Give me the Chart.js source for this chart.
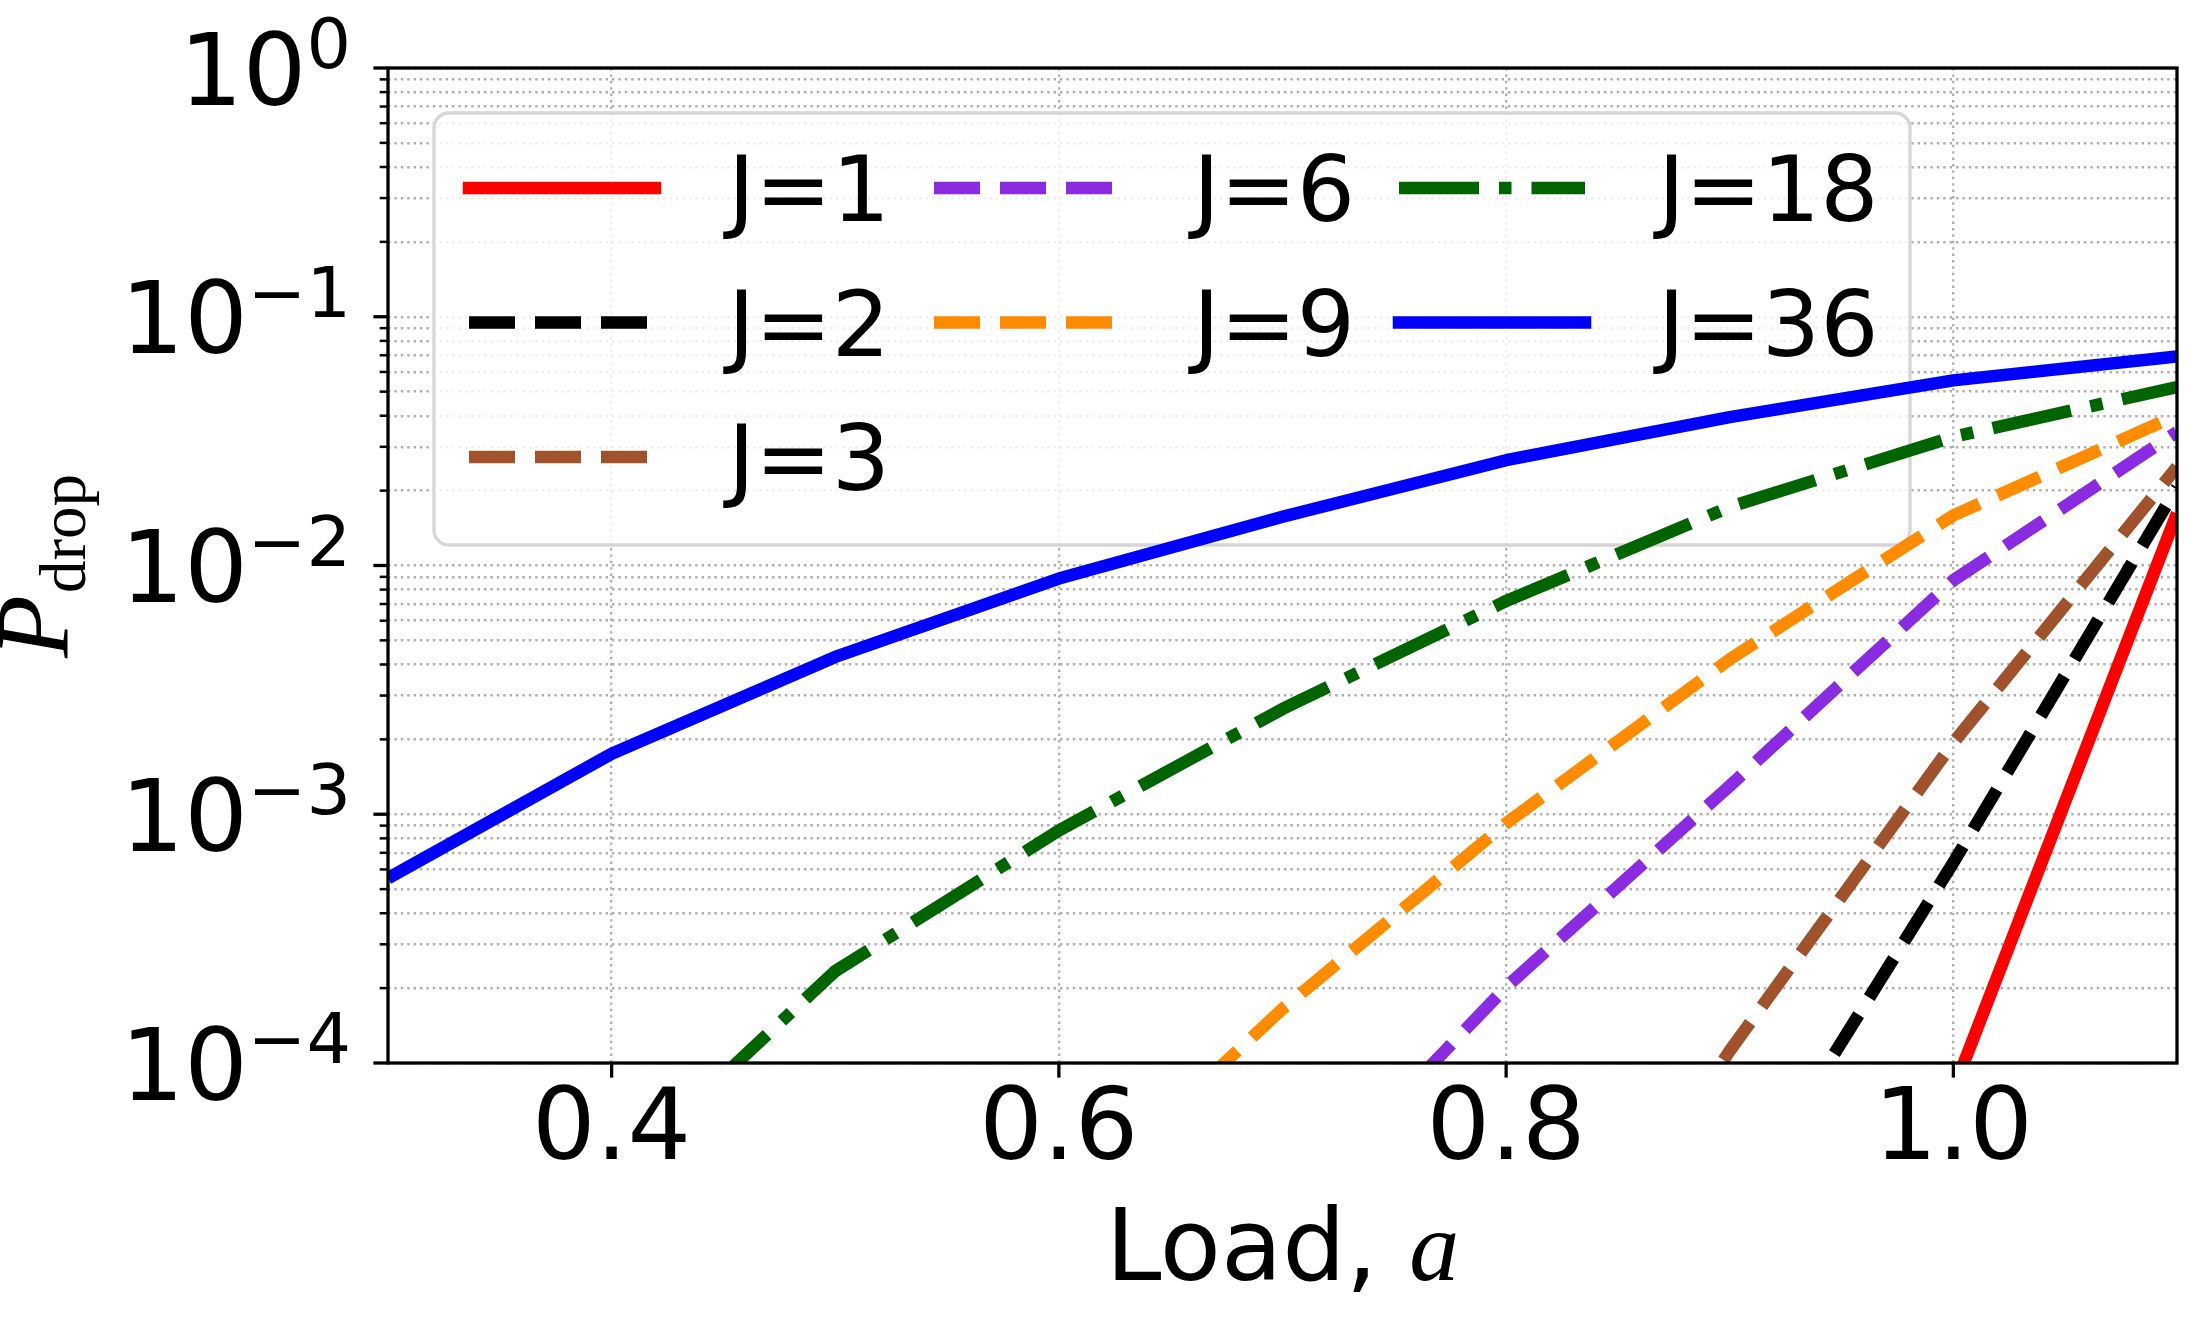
<!DOCTYPE html>
<html>
<head>
<meta charset="utf-8">
<title>Drop probability vs load</title>
<script src="https://cdn.jsdelivr.net/npm/chart.js@4.4.0/dist/chart.umd.min.js"></script>
<style>
    html, body { margin: 0; padding: 0; background: #ffffff; }
    #wrap { width: 2206px; height: 1333px; }
</style>
</head>
<body>
<div id="wrap"><canvas id="chart" width="2206" height="1333"></canvas></div>
<script>
// x axis: load a
const loads = [0.3, 0.4, 0.5, 0.6, 0.7, 0.8, 0.9, 1.0, 1.1];

// P_drop for each J (null where the curve is far below 1e-4)
const dropJ1  = [null, null, null, null, null, null, null, 7.8e-5, 1.62e-2];
const dropJ2  = [null, null, null, null, null, null, 2.3e-5, 6.4e-4, 2.06e-2];
const dropJ3  = [null, null, null, null, null, 4.8e-6, 1.12e-4, 1.94e-3, 2.49e-2];
const dropJ6  = [null, null, null, null, 2.33e-5, 2.02e-4, 1.3e-3, 8.72e-3, 3.44e-2];
const dropJ9  = [null, null, null, 2.4e-5, 1.65e-4, 9.2e-4, 4.2e-3, 1.59e-2, 4.02e-2];
const dropJ18 = [null, 3.4e-5, 2.34e-4, 8.6e-4, 2.65e-3, 7.2e-3, 1.72e-2, 3.29e-2, 5.22e-2];
const dropJ36 = [5.53e-4, 1.75e-3, 4.29e-3, 8.86e-3, 1.57e-2, 2.65e-2, 3.95e-2, 5.55e-2, 6.93e-2];

const seriesLabels = ['J=1', 'J=2', 'J=3', 'J=6', 'J=9', 'J=18', 'J=36'];
const seriesValues = [dropJ1, dropJ2, dropJ3, dropJ6, dropJ9, dropJ18, dropJ36];

// tick labels
const xTickValues = [0.4, 0.6, 0.8, 1.0];
const yMajorTicks = [1e-4, 1e-3, 1e-2, 1e-1, 1];
const yMajorExponents = ['\u22124', '\u22123', '\u22122', '\u22121', '0'];
const yMinorMultipliers = [2, 3, 4, 5, 6, 7, 8, 9];

// ---- styling ----
const LW = 12.5;
const DASH = [46, 20];
const lineStyles = [
    { color: '#ff0000', dash: [] },
    { color: '#000000', dash: DASH },
    { color: '#a0522d', dash: DASH },
    { color: '#8a2be2', dash: DASH },
    { color: '#ff8c00', dash: DASH },
    { color: '#006400', dash: [80, 20, 12.5, 20] },
    { color: '#0000ff', dash: [] }
];

const W = 2206, H = 1333;
const AREA = { left: 388, top: 68, right: 2177, bottom: 1063 };
const SANS = '"DejaVu Sans"';
const SERIF = '"Liberation Serif"';
const GRID = { color: '#b0b0b0', lineWidth: 2.4, drawTicks: false };
const GRID_BORDER = { display: false, dash: [2.4, 4] }; // v4 takes the grid dash from border.dash

// all y tick positions: decades plus the 2..9 multiples in between
const yAllTicks = [];
yMajorTicks.forEach((d, i) => {
    yAllTicks.push(d);
    if (i < yMajorTicks.length - 1) {
        yMinorMultipliers.forEach(m => yAllTicks.push(d * m));
    }
});

const datasets = seriesLabels.map((label, i) => ({
    label,
    data: loads.map((x, k) => ({ x, y: seriesValues[i][k] })),
    borderColor: lineStyles[i].color,
    backgroundColor: lineStyles[i].color,
    borderWidth: LW,
    borderDash: lineStyles[i].dash,
    borderCapStyle: 'butt',
    borderJoinStyle: 'round',
    pointRadius: 0,
    tension: 0,
    fill: false,
    spanGaps: false,
    clip: 0
}));

function drawLegendFrame(chart) {
    const ctx = chart.ctx;
    ctx.save();
    ctx.beginPath();
    ctx.roundRect(434, 113, 1476, 432, 15);
    ctx.fillStyle = 'rgba(255,255,255,0.8)';
    ctx.fill();
    ctx.lineWidth = 3.3;
    ctx.strokeStyle = '#d6d6d6';
    ctx.stroke();
    ctx.restore();
}

function drawLegendEntries(chart) {
    const ctx = chart.ctx;
    const colX = [469, 934, 1399];
    const rowY = [188, 322.5, 457];
    // 3 columns filled top-down: 3, 2, 2 entries
    const slots = [[0, 0], [0, 1], [0, 2], [1, 0], [1, 1], [2, 0], [2, 1]];
    ctx.save();
    chart.data.datasets.forEach((ds, i) => {
        const x0 = colX[slots[i][0]];
        const y = rowY[slots[i][1]];
        ctx.beginPath();
        ctx.setLineDash(ds.borderDash);
        ctx.lineCap = ds.borderDash.length ? 'butt' : 'square';
        ctx.lineWidth = LW;
        ctx.strokeStyle = ds.borderColor;
        ctx.moveTo(x0, y);
        ctx.lineTo(x0 + 186, y);
        ctx.stroke();
        ctx.setLineDash([]);
        ctx.fillStyle = '#000';
        ctx.font = '91.7px ' + SANS;
        ctx.textAlign = 'left';
        ctx.textBaseline = 'alphabetic';
        ctx.fillText(ds.label, x0 + 259, y + 33);
    });
    ctx.restore();
}

function drawAxesDecor(chart) {
    const ctx = chart.ctx;
    const a = chart.chartArea;
    const xs = chart.scales.x, ys = chart.scales.y;
    ctx.save();
    ctx.strokeStyle = '#000';
    ctx.lineCap = 'butt';

    // tick marks
    xs.ticks.forEach(t => {
        const px = xs.getPixelForValue(t.value);
        ctx.lineWidth = 3.3;
        ctx.beginPath();
        ctx.moveTo(px, a.bottom);
        ctx.lineTo(px, a.bottom + 14.6);
        ctx.stroke();
    });
    ys.ticks.forEach(t => {
        const py = ys.getPixelForValue(t.value);
        const major = yMajorTicks.includes(t.value);
        ctx.lineWidth = major ? 3.3 : 2.5;
        ctx.beginPath();
        ctx.moveTo(a.left, py);
        ctx.lineTo(a.left - (major ? 14.6 : 8.3), py);
        ctx.stroke();
    });

    // frame
    ctx.lineWidth = 3.3;
    ctx.lineJoin = 'miter';
    ctx.strokeRect(a.left, a.top, a.right - a.left, a.bottom - a.top);

    // y tick labels as 10^n
    ctx.fillStyle = '#000';
    ctx.textBaseline = 'alphabetic';
    ctx.textAlign = 'left';
    yMajorTicks.forEach((v, i) => {
        const py = ys.getPixelForValue(v);
        ctx.font = '70px ' + SANS;
        const wExp = ctx.measureText(yMajorExponents[i]).width;
        ctx.font = '100px ' + SANS;
        const wBase = ctx.measureText('10').width;
        const xEnd = 351;
        ctx.fillText('10', xEnd - wExp - wBase, py + 36.5);
        ctx.font = '70px ' + SANS;
        ctx.fillText(yMajorExponents[i], xEnd - wExp, py);
    });

    // x title: "Load, a"
    ctx.font = '100px ' + SANS;
    const wLoad = ctx.measureText('Load, ').width;
    ctx.font = 'italic 100px ' + SERIF;
    const wA = ctx.measureText('a').width;
    const xStart = (a.left + a.right) / 2 - (wLoad + wA) / 2;
    ctx.font = '100px ' + SANS;
    ctx.fillText('Load, ', xStart, 1280);
    ctx.font = 'italic 100px ' + SERIF;
    ctx.fillText('a', xStart + wLoad, 1280);

    // y title: P_drop, rotated
    ctx.translate(68, 567);
    ctx.rotate(-Math.PI / 2);
    ctx.font = 'italic 103px ' + SERIF;
    const wP = ctx.measureText('P').width;
    ctx.font = '65px ' + SERIF;
    const wSub = ctx.measureText('drop').width;
    const s = -(wP + wSub) / 2;
    ctx.font = 'italic 103px ' + SERIF;
    ctx.fillText('P', s, 0);
    ctx.font = '65px ' + SERIF;
    ctx.fillText('drop', s + wP + 2, 17);
    ctx.restore();
}

const decorPlugin = {
    id: 'decor',
    beforeDatasetsDraw(chart) {
        drawLegendFrame(chart);
    },
    afterDatasetsDraw(chart) {
        drawAxesDecor(chart);
        drawLegendEntries(chart);
    }
};

Chart.defaults.font.family = SANS;

const chart = new Chart(document.getElementById('chart').getContext('2d'), {
    type: 'line',
    data: { datasets },
    plugins: [decorPlugin],
    options: {
        responsive: false,
        animation: false,
        devicePixelRatio: 1,
        layout: {
            padding: { left: 0, top: AREA.top, right: W - AREA.right, bottom: 0 }
        },
        scales: {
            x: {
                type: 'linear',
                min: 0.3,
                max: 1.1,
                afterBuildTicks: scale => { scale.ticks = xTickValues.map(v => ({ value: v })); },
                afterFit: scale => { scale.height = H - AREA.bottom; },
                ticks: {
                    font: { family: SANS, size: 100 },
                    color: '#000',
                    padding: 10,
                    maxRotation: 0,
                    autoSkip: false,
                    callback: v => Number(v).toFixed(1)
                },
                grid: GRID,
                border: GRID_BORDER
            },
            y: {
                type: 'logarithmic',
                min: 1e-4,
                max: 1,
                afterBuildTicks: scale => { scale.ticks = yAllTicks.map(v => ({ value: v })); },
                afterFit: scale => { scale.width = AREA.left; },
                ticks: { display: false },
                grid: GRID,
                border: GRID_BORDER
            }
        },
        plugins: {
            legend: { display: false },
            tooltip: { enabled: false }
        }
    }
});
</script>
</body>
</html>
